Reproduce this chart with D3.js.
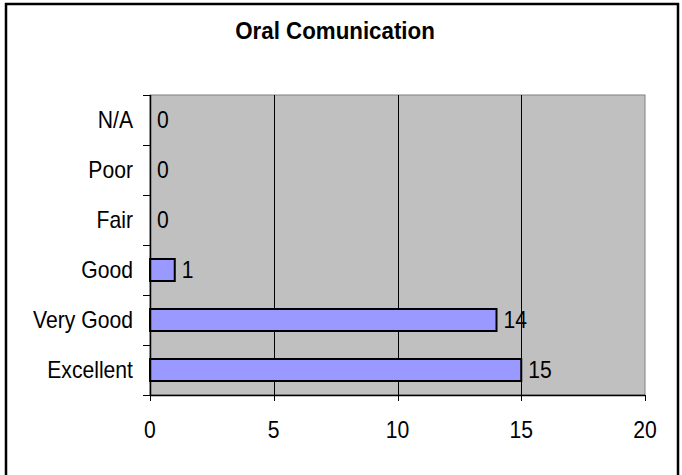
<!DOCTYPE html>
<html><head><meta charset="utf-8">
<script src="https://cdn.jsdelivr.net/npm/d3@7"></script>
<style>body{margin:0;background:#fff}svg{display:block}text{font-family:"Liberation Sans",Arial,sans-serif}</style>
</head><body>
<script>
const title = "Oral Comunication";
const categories = ["N/A","Poor","Fair","Good","Very Good","Excellent"];
const values = [0,0,0,1,14,15];
const xTicks = [0,5,10,15,20];

const W=682,H=475;
const m={l:150,r:W-645,t:95,b:H-395};
const FS=23, SX=0.92;
const svg=d3.select("body").append("svg").attr("width",W).attr("height",H);
svg.append("rect").attr("x",6).attr("y",4).attr("width",672).attr("height",480)
  .attr("fill","#fff").attr("stroke","#000").attr("stroke-width",2.5);

const x=d3.scaleLinear().domain([0,20]).range([m.l,W-m.r]);
const y=d3.scaleBand().domain(categories).range([m.t,H-m.b]).paddingInner(0.56).paddingOuter(0.28);

svg.append("rect").attr("x",x(0)).attr("y",m.t).attr("width",x(20)-x(0)).attr("height",H-m.b-m.t)
  .attr("fill","#C0C0C0").attr("stroke","#808080").attr("stroke-width",1);

svg.selectAll(".grid").data(xTicks.filter(d=>d>0&&d<20)).enter().append("line")
  .attr("x1",d=>Math.round(x(d))+0.5).attr("x2",d=>Math.round(x(d))+0.5)
  .attr("y1",m.t).attr("y2",H-m.b).attr("stroke","#000").attr("stroke-width",1);

svg.selectAll(".bar").data(values).enter().append("rect")
  .attr("x",x(0)).attr("y",(d,i)=>y(categories[i]))
  .attr("width",d=>x(d)-x(0)).attr("height",y.bandwidth())
  .attr("fill","#9999FF").attr("stroke","#000").attr("stroke-width",2)
  .attr("display",d=>d>0?null:"none");

function label(sel){ return sel.attr("font-size",FS); }

svg.selectAll(".val").data(values).enter().append("text")
  .attr("transform",(d,i)=>`translate(${x(d)+7},${y(categories[i])+y.bandwidth()/2}) scale(${SX},1)`)
  .attr("dy","0.36em").call(label).text(d=>d);

// y axis
const step=y.step();
const bounds=d3.range(categories.length+1).map(i=>m.t+i*step);
svg.append("line").attr("x1",m.l+0.5).attr("x2",m.l+0.5).attr("y1",m.t).attr("y2",H-m.b).attr("stroke","#000").attr("stroke-width",1.5);
svg.selectAll(".yt").data(bounds).enter().append("line")
  .attr("x1",m.l-7).attr("x2",m.l).attr("y1",d=>d+0.5).attr("y2",d=>d+0.5).attr("stroke","#000");
svg.selectAll(".yl").data(categories).enter().append("text")
  .attr("transform",d=>`translate(133,${y(d)+y.bandwidth()/2}) scale(${SX},1)`).attr("dy","0.36em")
  .attr("text-anchor","end").call(label).text(d=>d);

// x axis
svg.append("line").attr("x1",m.l).attr("x2",W-m.r).attr("y1",H-m.b+0.5).attr("y2",H-m.b+0.5).attr("stroke","#000").attr("stroke-width",1.5);
svg.selectAll(".xt").data(xTicks).enter().append("line")
  .attr("x1",d=>Math.round(x(d))+0.5).attr("x2",d=>Math.round(x(d))+0.5)
  .attr("y1",H-m.b).attr("y2",H-m.b+6).attr("stroke","#000");
svg.selectAll(".xl").data(xTicks).enter().append("text")
  .attr("transform",d=>`translate(${x(d)},430) scale(${SX},1)`).attr("dy","0.36em").attr("text-anchor","middle")
  .call(label).text(d=>d);

svg.append("text").attr("transform","translate(335,38.5) scale(0.95,1)").attr("text-anchor","middle")
  .attr("font-size",23.5).attr("font-weight","bold").text(title);
</script>
</body></html>
